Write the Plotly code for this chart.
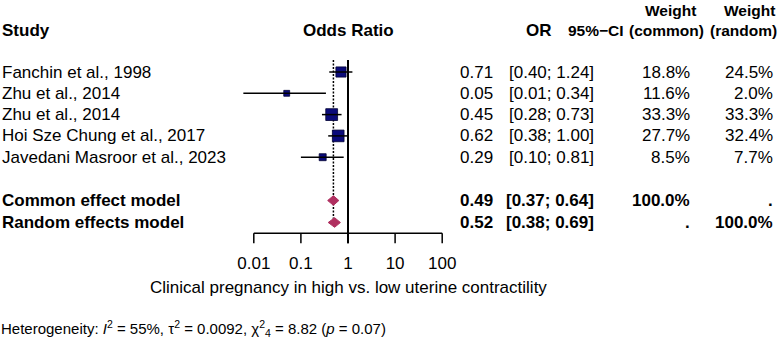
import plotly.graph_objects as go

# ---------------- data ----------------
studies = ["Fanchin et al., 1998", "Zhu et al., 2014", "Zhu et al., 2014",
           "Hoi Sze Chung et al., 2017", "Javedani Masroor et al., 2023"]
or_est = [0.71, 0.05, 0.45, 0.62, 0.29]
ci_low = [0.40, 0.006, 0.28, 0.38, 0.10]
ci_high = [1.24, 0.34, 0.73, 1.00, 0.81]
w_common = [18.8, 11.6, 33.3, 27.7, 8.5]
w_random = [24.5, 2.0, 33.3, 32.4, 7.7]

pooled_names = ["Common effect model", "Random effects model"]
pooled_est = [0.49, 0.52]
pooled_low = [0.37, 0.38]
pooled_high = [0.64, 0.69]
pooled_wc = ["100.0%", "."]
pooled_wr = [".", "100.0%"]

tick_vals = [0.01, 0.1, 1, 10, 100]
tick_labels = ["0.01", "0.1", "1", "10", "100"]
xlabel = "Clinical pregnancy in high vs. low uterine contractility"
i2, tau2, chi2, df, pval = "55%", "0.0092", "8.82", "4", "0.07"

# ---------------- layout constants ----------------
W, H = 778, 340
X1 = 348.0        # pixel of OR = 1
DEC = 47.1        # pixels per decade
Y0 = 72.0         # pixel of first study row
ROW = 21.3        # pixels per row
FONT = "Liberation Sans, Arial, Helvetica, sans-serif"
FS = 17
FSH = 15.5        # right-hand column headers

def row_of(py):
    return (py - Y0) / ROW

study_rows = list(range(len(studies)))
pooled_rows = [row_of(200.5), row_of(222.5)]
axis_row = row_of(233.3)
tick_row = row_of(243.3)
ticklab_row = row_of(265)
title_row = row_of(287)
het_row = row_of(328)
top_row = row_of(60)

fig = go.Figure()

# reference line at 1
fig.add_trace(go.Scatter(x=[1, 1], y=[top_row, tick_row], mode="lines",
                         line=dict(color="black", width=2), hoverinfo="skip"))
# common effect dashed line
fig.add_trace(go.Scatter(x=[pooled_est[0], pooled_est[0]], y=[top_row, pooled_rows[1]],
                         mode="lines", line=dict(color="black", width=1.5, dash="2px,1.5px"),
                         hoverinfo="skip"))

# squares
sizes = [5.5 + 0.19 * w for w in w_random]
fig.add_trace(go.Scatter(x=or_est, y=study_rows, mode="markers",
                         marker=dict(symbol="square", size=sizes, color="#0A0A7A", opacity=1,
                                     line=dict(color="#000033", width=0.8)),
                         hoverinfo="skip"))
# CI lines
cx, cy = [], []
for lo, hi, r in zip(ci_low, ci_high, study_rows):
    cx += [lo, hi, None]
    cy += [r, r, None]
fig.add_trace(go.Scatter(x=cx, y=cy, mode="lines", line=dict(color="black", width=1.5),
                         hoverinfo="skip"))

# diamonds
dh = 4.8 / ROW
for est, lo, hi, r in zip(pooled_est, pooled_low, pooled_high, pooled_rows):
    fig.add_trace(go.Scatter(x=[lo, est, hi, est, lo], y=[r, r - dh, r, r + dh, r],
                             mode="lines", fill="toself", fillcolor="#B03060",
                             line=dict(color="#B03060", width=1), hoverinfo="skip"))

# x axis (drawn)
ax, ay = [tick_vals[0], tick_vals[-1], None], [axis_row, axis_row, None]
for v in tick_vals:
    ax += [v, v, None]
    ay += [axis_row, tick_row, None]
fig.add_trace(go.Scatter(x=ax, y=ay, mode="lines", line=dict(color="black", width=1.5),
                         hoverinfo="skip"))
fig.add_trace(go.Scatter(x=tick_vals, y=[ticklab_row] * len(tick_vals), mode="text",
                         text=tick_labels, textposition="middle center",
                         textfont=dict(family=FONT, size=FS, color="black"),
                         hoverinfo="skip"))

# ---------------- text columns ----------------
ann = []
def txt(px, r, s, anchor="left", bold=False, size=FS):
    ann.append(dict(x=px / W, xref="paper", y=r, yref="y", text=("<b>%s</b>" % s) if bold else s,
                    xanchor=anchor, yanchor="middle", showarrow=False, borderpad=0,
                    font=dict(family=FONT, size=size, color="black")))

hdr = row_of(30)
hdr2 = row_of(10)
txt(1, hdr, "Study", bold=True)
txt(X1, hdr, "Odds Ratio", anchor="center", bold=True)
txt(553, hdr, "OR", anchor="right", bold=True)
txt(625, hdr, "95%\u2212CI", anchor="right", bold=True, size=FSH)
txt(697, hdr2, "Weight", anchor="right", bold=True, size=FSH)
txt(705, hdr, "(common)", anchor="right", bold=True, size=FSH)
txt(776, hdr2, "Weight", anchor="right", bold=True, size=FSH)
txt(778, hdr, "(random)", anchor="right", bold=True, size=FSH)

for s, e, lo, hi, wc, wr, r in zip(studies, or_est, ci_low, ci_high, w_common, w_random, study_rows):
    txt(1, r, s)
    txt(494, r, "%.2f" % e, anchor="right")
    txt(595, r, "[%.2f; %.2f]" % (lo, hi), anchor="right")
    txt(691, r, "%.1f%%" % wc, anchor="right")
    txt(774, r, "%.1f%%" % wr, anchor="right")

for s, e, lo, hi, wc, wr, r in zip(pooled_names, pooled_est, pooled_low, pooled_high,
                                    pooled_wc, pooled_wr, pooled_rows):
    txt(1, r, s, bold=True)
    txt(494, r, "%.2f" % e, anchor="right", bold=True)
    txt(595, r, "[%.2f; %.2f]" % (lo, hi), anchor="right", bold=True)
    txt(691, r, wc, anchor="right", bold=True)
    txt(774, r, wr, anchor="right", bold=True)

txt(X1, title_row, xlabel, anchor="center")
het = ("Heterogeneity: <i>I</i><sup>2</sup> = %s, \u03c4<sup>2</sup> = %s, "
       "\u03c7<sup>2</sup><sub>%s</sub> = %s (<i>p</i> = %s)" % (i2, tau2, df, chi2, pval))
txt(0, het_row, het, size=15)

x_lo = (0 - X1) / DEC
x_hi = (W - X1) / DEC
fig.update_layout(
    width=W, height=H, margin=dict(l=0, r=0, t=0, b=0),
    paper_bgcolor="white", plot_bgcolor="white", showlegend=False,
    xaxis=dict(type="log", range=[x_lo, x_hi], visible=False, fixedrange=True),
    yaxis=dict(range=[row_of(H), row_of(0)], visible=False, fixedrange=True),
    annotations=ann,
)
fig.write_html("out.html", config={"displayModeBar": False},
               post_script="document.body.style.margin='0px';document.body.style.overflow='hidden';")
